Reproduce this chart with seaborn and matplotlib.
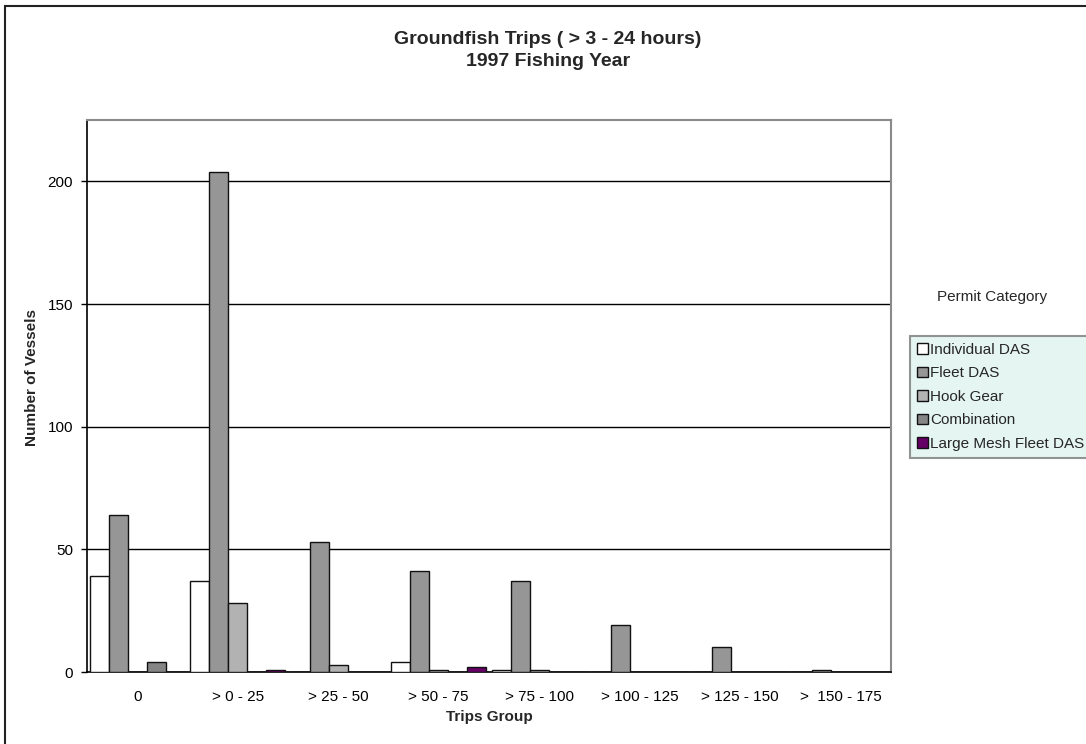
import matplotlib
matplotlib.use("Agg")
import matplotlib.pyplot as plt
from matplotlib.patches import Patch, Rectangle
import seaborn as sns
import pandas as pd

# Trip-count groups on the x axis
trip_groups = ["0", "> 0 - 25", "> 25 - 50", "> 50 - 75", "> 75 - 100",
               "> 100 - 125", "> 125 - 150", ">  150 - 175"]

# Number of vessels per permit category
individual_das = [39, 37, 0, 4, 1, 0, 0, 0]
fleet_das = [64, 204, 53, 41, 37, 19, 10, 1]
hook_gear = [0, 28, 3, 1, 1, 0, 0, 0]
combination = [4, 0, 0, 0, 0, 0, 0, 0]
large_mesh_fleet_das = [0, 1, 0, 2, 0, 0, 0, 0]

categories = ["Individual DAS", "Fleet DAS", "Hook Gear", "Combination",
              "Large Mesh Fleet DAS"]
series = [individual_das, fleet_das, hook_gear, combination, large_mesh_fleet_das]
colors = ["#ffffff", "#969696", "#b2b2b2", "#858585", "#660066"]

rows = []
for cat, vals in zip(categories, series):
    for grp, v in zip(trip_groups, vals):
        rows.append({"Trips Group": grp, "Vessels": v, "Permit": cat})
df = pd.DataFrame(rows)

sns.set_theme(style="white")
plt.rcParams["font.family"] = ["Liberation Sans", "DejaVu Sans"]

fig = plt.figure(figsize=(10.86, 7.44), dpi=100)
ax = fig.add_axes([87 / 1086, 1 - 672 / 744, (891 - 87) / 1086, (672 - 120) / 744])

sns.barplot(data=df, x="Trips Group", y="Vessels", hue="Permit",
            hue_order=categories, order=trip_groups, palette=colors,
            width=0.95, saturation=1, edgecolor="#111111", linewidth=1.0,
            errorbar=None, ax=ax, legend=False, zorder=3)

ax.set_ylim(0, 225)
ax.set_xlim(-0.5, len(trip_groups) - 0.5)
ax.set_yticks([0, 50, 100, 150, 200])
ax.set_xticks([i + 0.5 for i in range(-1, len(trip_groups))], minor=True)
ax.tick_params(axis="x", which="major", length=0, labelsize=11, pad=13, colors="black")
ax.tick_params(axis="x", which="minor", length=4, width=1, color="black", direction="out")
ax.tick_params(axis="y", length=4, width=1, color="black", direction="out",
               labelsize=11, pad=6, colors="black", left=True)
ax.yaxis.grid(True, color="black", linewidth=1, zorder=0)
ax.xaxis.grid(False)
ax.set_axisbelow(True)
ax.set_xlabel("")
ax.set_ylabel("")

for side in ["left", "bottom"]:
    ax.spines[side].set_color("black")
    ax.spines[side].set_linewidth(1.2)
for side in ["top", "right"]:
    ax.spines[side].set_visible(True)
    ax.spines[side].set_color("#8a8a8a")
    ax.spines[side].set_linewidth(1.5)

fig.text(548 / 1086, 1 - 39 / 744, "Groundfish Trips ( > 3 - 24 hours)",
         ha="center", va="center", fontsize=14, fontweight="bold")
fig.text(548 / 1086, 1 - 62 / 744, "1997 Fishing Year",
         ha="center", va="center", fontsize=14, fontweight="bold")
fig.text(489 / 1086, 1 - 717 / 744, "Trips Group", ha="center", va="center",
         fontsize=11, fontweight="bold")
fig.text(32 / 1086, 1 - 378 / 744, "Number of Vessels", ha="center", va="center",
         rotation=90, fontsize=11, fontweight="bold")

# Legend with its heading placed above the box
fig.text(992 / 1086, 1 - 297 / 744, "Permit Category", ha="center", va="center",
         fontsize=11)
handles = [Patch(facecolor=c, edgecolor="#111111", linewidth=1) for c in colors]
leg = fig.legend(handles, categories, loc="upper left",
                 bbox_to_anchor=(910 / 1086, 1 - 336 / 744), fontsize=11,
                 frameon=True, fancybox=False, handlelength=0.7, handleheight=0.7,
                 handletextpad=0.15, borderpad=0.45, labelspacing=0.62,
                 borderaxespad=0)
leg.get_frame().set_facecolor("#dff3ee")
leg.get_frame().set_edgecolor("#7a7a7a")
leg.get_frame().set_linewidth(1.5)

# Outer chart border
fig.patches.append(Rectangle((5 / 1086, -0.05), 1.2, 1 - 6 / 744 + 0.05,
                             transform=fig.transFigure, fill=False,
                             edgecolor="#222222", linewidth=1.5))

fig.savefig("out.png", dpi=100)
